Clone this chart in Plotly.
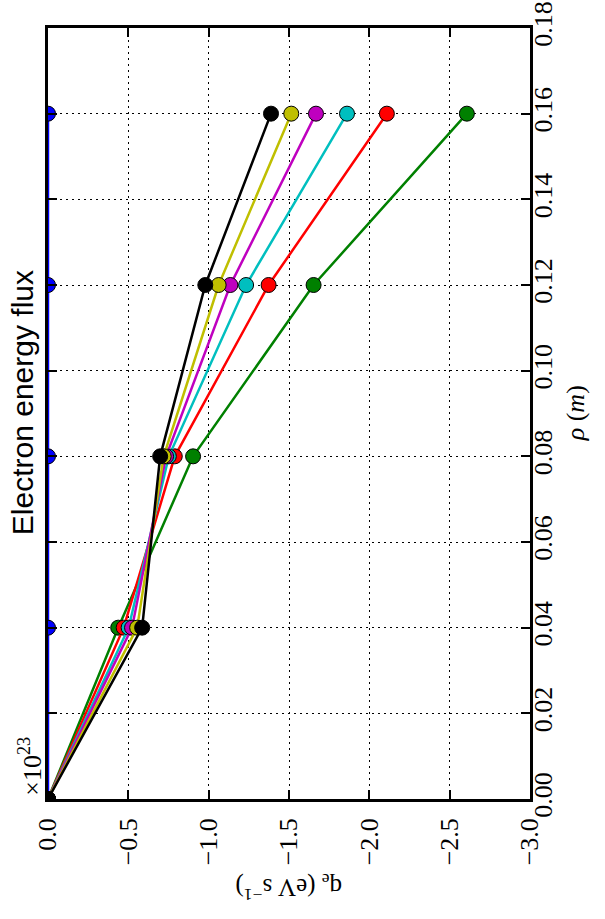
import plotly.graph_objects as go

# Radial positions (m)
rho = [0.0, 0.04, 0.08, 0.12, 0.16]

# Electron energy flux, in units of 1e23 eV/s
q_blue = [0.0, 0.0, 0.0, 0.0, 0.0]
q_green = [0.0, -0.437, -0.903, -1.653, -2.607]
q_red = [0.0, -0.471, -0.789, -1.373, -2.109]
q_cyan = [0.0, -0.502, -0.752, -1.233, -1.861]
q_magenta = [0.0, -0.523, -0.735, -1.135, -1.668]
q_yellow = [0.0, -0.555, -0.720, -1.062, -1.514]
q_black = [0.0, -0.586, -0.698, -0.979, -1.388]

series = [
    (q_blue, "#0000ff"),
    (q_green, "#008000"),
    (q_red, "#ff0000"),
    (q_cyan, "#00bfbf"),
    (q_magenta, "#bf00bf"),
    (q_yellow, "#bfbf00"),
    (q_black, "#000000"),
]

q_ticks = [0.0, -0.5, -1.0, -1.5, -2.0, -2.5, -3.0]
q_ticktext = ["0.0", "\u22120.5", "\u22121.0", "\u22121.5", "\u22122.0", "\u22122.5", "\u22123.0"]
rho_ticks = [0.00, 0.02, 0.04, 0.06, 0.08, 0.10, 0.12, 0.14, 0.16, 0.18]
rho_ticktext = [f"{v:.2f}" for v in rho_ticks]

serif = "Liberation Serif"
sans = "Liberation Sans"

fig = go.Figure()
for q, col in series:
    fig.add_trace(go.Scatter(
        x=q, y=rho, mode="lines+markers",
        line=dict(color=col, width=2.5),
        marker=dict(color=col, size=15, line=dict(color="black", width=1)),
        showlegend=False,
    ))

axis_common = dict(
    showline=True, linecolor="black", linewidth=2.5, mirror="allticks",
    ticks="inside", ticklen=9, tickwidth=1.5, tickcolor="black",
    showgrid=True, gridcolor="black", gridwidth=1, griddash="2px,4px",
    zeroline=False, tickangle=-90, automargin=False, layer="above traces",
    tickfont=dict(family=serif, size=26, color="black"),
)

fig.update_xaxes(
    range=[0, -3.0], tickvals=q_ticks, ticktext=q_ticktext,
    ticklabelstandoff=6, **axis_common,
)
fig.update_yaxes(
    range=[0, 0.18], tickvals=rho_ticks, ticktext=rho_ticktext,
    side="right", ticklabelstandoff=-12, **axis_common,
)

annotations = [
    dict(text="Electron energy flux", x=-0.053, y=0.514, textangle=-90,
         font=dict(family=sans, size=30, color="black")),
    dict(text="q<sub>e</sub> (eV s<sup>\u22121</sup>)", x=0.5, y=-0.115, textangle=180,
         font=dict(family=serif, size=25, color="black")),
    dict(text="<i>\u03c1</i> (<i>m</i>)", x=1.095, y=0.5, textangle=-90,
         font=dict(family=serif, size=26, color="black")),
    dict(text="\u00d710<sup>23</sup>", x=-0.035, y=0.042, textangle=-90,
         font=dict(family=serif, size=26, color="black")),
]
for a in annotations:
    fig.add_annotation(xref="paper", yref="paper", showarrow=False,
                       xanchor="center", yanchor="middle", **a)

fig.update_layout(
    width=605, height=919,
    margin=dict(l=47.5, r=75, t=28, b=120),
    paper_bgcolor="white", plot_bgcolor="white",
)

fig.write_html("out.html")
